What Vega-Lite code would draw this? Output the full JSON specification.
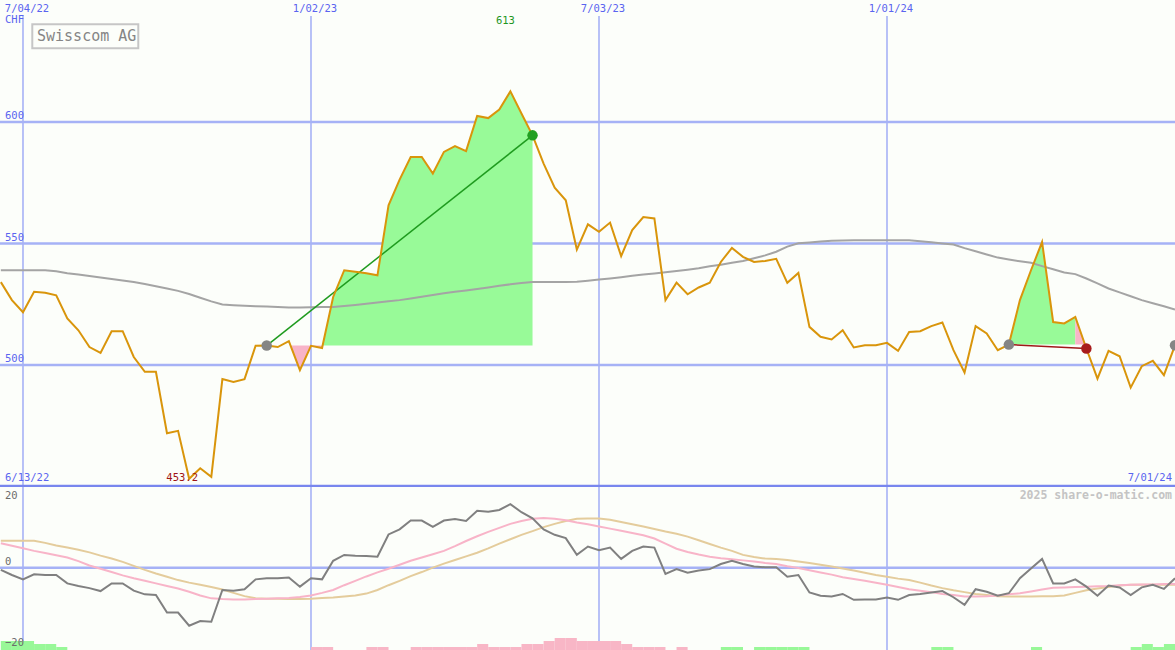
{
  "$schema": "https://vega.github.io/schema/vega-lite/v6.json",
  "padding": 0,
  "background": "#fcfefa",
  "spacing": 0,
  "bounds": "flush",
  "resolve": {"scale": {"color": "independent"}},
  "config": {"view": {"stroke": null}, "axis": {"disable": true}, "legend": {"disable": true}},
  "datasets": {
    "weekly": [
      {"d":"2022-06-20","p":534.1,"m":539.0,"o":-0.6,"sig1":6.7,"sig2":7.4},
      {"d":"2022-06-27","p":526.7,"m":539.0,"o":-2.0,"sig1":6.0,"sig2":7.4},
      {"d":"2022-07-04","p":521.7,"m":539.0,"o":-3.2,"sig1":5.3,"sig2":7.4},
      {"d":"2022-07-11","p":530.1,"m":539.0,"o":-1.8,"sig1":4.6,"sig2":7.4},
      {"d":"2022-07-18","p":529.7,"m":539.0,"o":-2.0,"sig1":4.0,"sig2":6.8},
      {"d":"2022-07-25","p":528.7,"m":538.6,"o":-2.0,"sig1":3.4,"sig2":6.1},
      {"d":"2022-08-01","p":519.2,"m":537.8,"o":-4.3,"sig1":2.8,"sig2":5.5},
      {"d":"2022-08-08","p":514.3,"m":537.2,"o":-5.0,"sig1":1.8,"sig2":4.9},
      {"d":"2022-08-15","p":507.4,"m":536.6,"o":-5.6,"sig1":0.6,"sig2":4.2},
      {"d":"2022-08-22","p":505.0,"m":536.0,"o":-6.4,"sig1":-0.3,"sig2":3.3},
      {"d":"2022-08-29","p":513.9,"m":535.4,"o":-4.3,"sig1":-1.2,"sig2":2.5},
      {"d":"2022-09-05","p":513.9,"m":534.8,"o":-4.3,"sig1":-2.1,"sig2":1.6},
      {"d":"2022-09-12","p":503.3,"m":534.2,"o":-6.3,"sig1":-2.9,"sig2":0.5},
      {"d":"2022-09-19","p":497.2,"m":533.3,"o":-7.3,"sig1":-3.6,"sig2":-0.6},
      {"d":"2022-09-26","p":497.2,"m":532.4,"o":-7.5,"sig1":-4.3,"sig2":-1.6},
      {"d":"2022-10-03","p":471.9,"m":531.5,"o":-12.3,"sig1":-5.0,"sig2":-2.5},
      {"d":"2022-10-10","p":472.9,"m":530.5,"o":-12.3,"sig1":-5.7,"sig2":-3.4},
      {"d":"2022-10-17","p":453.2,"m":529.2,"o":-15.9,"sig1":-6.6,"sig2":-4.1},
      {"d":"2022-10-24","p":457.5,"m":527.7,"o":-14.6,"sig1":-7.6,"sig2":-4.7},
      {"d":"2022-10-31","p":454.0,"m":526.2,"o":-14.8,"sig1":-8.4,"sig2":-5.3},
      {"d":"2022-11-07","p":494.2,"m":524.9,"o":-6.1,"sig1":-8.6,"sig2":-6.0},
      {"d":"2022-11-14","p":493.0,"m":524.6,"o":-6.3,"sig1":-8.7,"sig2":-6.9},
      {"d":"2022-11-21","p":494.2,"m":524.4,"o":-5.9,"sig1":-8.7,"sig2":-7.8},
      {"d":"2022-11-28","p":507.9,"m":524.2,"o":-3.2,"sig1":-8.6,"sig2":-8.4},
      {"d":"2022-12-05","p":508.0,"m":524.1,"o":-2.9,"sig1":-8.5,"sig2":-8.5},
      {"d":"2022-12-12","p":507.4,"m":523.9,"o":-2.9,"sig1":-8.4,"sig2":-8.5},
      {"d":"2022-12-19","p":509.8,"m":523.7,"o":-2.7,"sig1":-8.3,"sig2":-8.6},
      {"d":"2022-12-26","p":497.9,"m":523.7,"o":-5.2,"sig1":-8.0,"sig2":-8.6},
      {"d":"2023-01-02","p":507.9,"m":523.8,"o":-2.9,"sig1":-7.6,"sig2":-8.5},
      {"d":"2023-01-09","p":507.0,"m":523.9,"o":-3.2,"sig1":-6.9,"sig2":-8.3},
      {"d":"2023-01-16","p":528.0,"m":523.9,"o":1.9,"sig1":-6.1,"sig2":-8.2},
      {"d":"2023-01-23","p":539.0,"m":524.3,"o":3.5,"sig1":-4.8,"sig2":-7.9},
      {"d":"2023-01-30","p":538.4,"m":524.7,"o":3.3,"sig1":-3.6,"sig2":-7.6},
      {"d":"2023-02-06","p":537.8,"m":525.2,"o":3.2,"sig1":-2.4,"sig2":-7.1},
      {"d":"2023-02-13","p":536.9,"m":525.7,"o":3.0,"sig1":-1.3,"sig2":-6.1},
      {"d":"2023-02-20","p":565.7,"m":526.2,"o":9.1,"sig1":-0.3,"sig2":-4.8},
      {"d":"2023-02-27","p":576.3,"m":526.7,"o":10.5,"sig1":0.8,"sig2":-3.6},
      {"d":"2023-03-06","p":585.6,"m":527.4,"o":12.9,"sig1":1.9,"sig2":-2.3},
      {"d":"2023-03-13","p":585.6,"m":528.1,"o":12.9,"sig1":2.8,"sig2":-1.2},
      {"d":"2023-03-20","p":578.8,"m":528.8,"o":11.2,"sig1":3.7,"sig2":0.0},
      {"d":"2023-03-27","p":587.7,"m":529.5,"o":12.9,"sig1":4.6,"sig2":1.1},
      {"d":"2023-04-03","p":590.1,"m":530.1,"o":13.3,"sig1":5.9,"sig2":2.1},
      {"d":"2023-04-10","p":588.0,"m":530.7,"o":12.8,"sig1":7.3,"sig2":3.1},
      {"d":"2023-04-17","p":602.5,"m":531.3,"o":15.6,"sig1":8.6,"sig2":4.1},
      {"d":"2023-04-24","p":601.6,"m":531.9,"o":15.3,"sig1":9.8,"sig2":5.3},
      {"d":"2023-05-01","p":605.1,"m":532.6,"o":15.8,"sig1":10.9,"sig2":6.6},
      {"d":"2023-05-08","p":612.6,"m":533.2,"o":17.4,"sig1":12.0,"sig2":7.8},
      {"d":"2023-05-15","p":603.5,"m":533.7,"o":15.2,"sig1":12.8,"sig2":9.0},
      {"d":"2023-05-22","p":594.5,"m":534.2,"o":13.5,"sig1":13.4,"sig2":10.0},
      {"d":"2023-05-29","p":582.9,"m":534.2,"o":10.5,"sig1":13.6,"sig2":11.1},
      {"d":"2023-06-05","p":573.0,"m":534.2,"o":9.0,"sig1":13.4,"sig2":12.0},
      {"d":"2023-06-12","p":567.8,"m":534.2,"o":8.1,"sig1":13.0,"sig2":12.8},
      {"d":"2023-06-19","p":547.5,"m":534.3,"o":3.5,"sig1":12.4,"sig2":13.4},
      {"d":"2023-06-26","p":557.9,"m":534.7,"o":5.8,"sig1":11.9,"sig2":13.5},
      {"d":"2023-07-03","p":554.8,"m":535.2,"o":4.8,"sig1":11.3,"sig2":13.5},
      {"d":"2023-07-10","p":558.6,"m":535.6,"o":5.5,"sig1":10.7,"sig2":13.1},
      {"d":"2023-07-17","p":544.8,"m":536.1,"o":2.4,"sig1":10.1,"sig2":12.5},
      {"d":"2023-07-24","p":555.5,"m":536.7,"o":4.6,"sig1":9.5,"sig2":11.9},
      {"d":"2023-07-31","p":560.9,"m":537.2,"o":5.8,"sig1":8.9,"sig2":11.3},
      {"d":"2023-08-07","p":560.3,"m":537.7,"o":5.5,"sig1":8.0,"sig2":10.6},
      {"d":"2023-08-14","p":526.7,"m":538.2,"o":-1.7,"sig1":6.6,"sig2":9.9},
      {"d":"2023-08-21","p":533.9,"m":538.7,"o":-0.4,"sig1":5.2,"sig2":9.3},
      {"d":"2023-08-28","p":529.1,"m":539.2,"o":-1.4,"sig1":4.3,"sig2":8.5},
      {"d":"2023-09-04","p":531.9,"m":539.8,"o":-0.8,"sig1":3.6,"sig2":7.5},
      {"d":"2023-09-11","p":533.9,"m":540.6,"o":-0.4,"sig1":3.0,"sig2":6.5},
      {"d":"2023-09-18","p":542.4,"m":541.3,"o":1.0,"sig1":2.6,"sig2":5.5},
      {"d":"2023-09-25","p":548.2,"m":542.1,"o":1.9,"sig1":2.3,"sig2":4.6},
      {"d":"2023-10-02","p":544.5,"m":542.8,"o":1.0,"sig1":2.0,"sig2":3.5},
      {"d":"2023-10-09","p":542.4,"m":543.9,"o":0.3,"sig1":1.7,"sig2":2.9},
      {"d":"2023-10-16","p":542.8,"m":545.1,"o":0.1,"sig1":1.3,"sig2":2.5},
      {"d":"2023-10-23","p":543.7,"m":546.6,"o":0.1,"sig1":1.0,"sig2":2.4},
      {"d":"2023-10-30","p":533.8,"m":548.7,"o":-2.5,"sig1":0.4,"sig2":2.1},
      {"d":"2023-11-06","p":537.9,"m":550.1,"o":-2.0,"sig1":-0.1,"sig2":1.7},
      {"d":"2023-11-13","p":515.7,"m":550.4,"o":-6.8,"sig1":-0.7,"sig2":1.3},
      {"d":"2023-11-20","p":511.6,"m":550.8,"o":-7.7,"sig1":-1.3,"sig2":0.8},
      {"d":"2023-11-27","p":510.5,"m":551.1,"o":-7.9,"sig1":-1.9,"sig2":0.3},
      {"d":"2023-12-04","p":514.3,"m":551.2,"o":-7.2,"sig1":-2.6,"sig2":-0.2},
      {"d":"2023-12-11","p":507.2,"m":551.3,"o":-8.8,"sig1":-3.1,"sig2":-0.8},
      {"d":"2023-12-18","p":508.1,"m":551.3,"o":-8.7,"sig1":-3.6,"sig2":-1.4},
      {"d":"2023-12-25","p":508.1,"m":551.3,"o":-8.7,"sig1":-4.1,"sig2":-2.0},
      {"d":"2024-01-01","p":509.1,"m":551.3,"o":-8.2,"sig1":-4.7,"sig2":-2.5},
      {"d":"2024-01-08","p":505.8,"m":551.3,"o":-8.8,"sig1":-5.3,"sig2":-3.0},
      {"d":"2024-01-15","p":513.6,"m":551.3,"o":-7.5,"sig1":-5.9,"sig2":-3.4},
      {"d":"2024-01-22","p":513.9,"m":550.9,"o":-7.2,"sig1":-6.3,"sig2":-4.1},
      {"d":"2024-01-29","p":516.0,"m":550.5,"o":-6.8,"sig1":-6.7,"sig2":-4.9},
      {"d":"2024-02-05","p":517.5,"m":550.0,"o":-6.4,"sig1":-7.2,"sig2":-5.6},
      {"d":"2024-02-12","p":506.1,"m":549.6,"o":-8.1,"sig1":-7.5,"sig2":-6.2},
      {"d":"2024-02-19","p":496.9,"m":548.1,"o":-10.2,"sig1":-7.9,"sig2":-6.7},
      {"d":"2024-02-26","p":516.0,"m":546.8,"o":-5.9,"sig1":-7.9,"sig2":-7.2},
      {"d":"2024-03-04","p":513.0,"m":545.5,"o":-6.6,"sig1":-7.8,"sig2":-7.5},
      {"d":"2024-03-11","p":506.1,"m":544.2,"o":-7.7,"sig1":-7.6,"sig2":-7.8},
      {"d":"2024-03-18","p":508.4,"m":543.4,"o":-7.0,"sig1":-7.3,"sig2":-7.9},
      {"d":"2024-03-25","p":526.7,"m":542.7,"o":-2.9,"sig1":-7.0,"sig2":-7.9},
      {"d":"2024-04-01","p":539.0,"m":542.1,"o":-0.2,"sig1":-6.5,"sig2":-7.9},
      {"d":"2024-04-08","p":550.6,"m":540.7,"o":2.4,"sig1":-6.0,"sig2":-7.8},
      {"d":"2024-04-15","p":517.7,"m":539.4,"o":-4.3,"sig1":-5.5,"sig2":-7.8},
      {"d":"2024-04-22","p":517.1,"m":538.1,"o":-4.3,"sig1":-5.4,"sig2":-7.6},
      {"d":"2024-04-29","p":519.8,"m":537.4,"o":-3.2,"sig1":-5.3,"sig2":-6.9},
      {"d":"2024-05-06","p":506.8,"m":535.6,"o":-5.2,"sig1":-5.2,"sig2":-6.2},
      {"d":"2024-05-13","p":494.4,"m":533.6,"o":-7.7,"sig1":-5.1,"sig2":-5.7},
      {"d":"2024-05-20","p":505.8,"m":531.5,"o":-4.9,"sig1":-5.0,"sig2":-5.3},
      {"d":"2024-05-27","p":503.6,"m":529.9,"o":-5.4,"sig1":-4.8,"sig2":-4.9},
      {"d":"2024-06-03","p":490.7,"m":528.3,"o":-7.5,"sig1":-4.7,"sig2":-4.7},
      {"d":"2024-06-10","p":499.5,"m":526.7,"o":-5.4,"sig1":-4.6,"sig2":-4.7},
      {"d":"2024-06-17","p":501.7,"m":525.4,"o":-4.7,"sig1":-4.6,"sig2":-4.7},
      {"d":"2024-06-24","p":495.8,"m":524.2,"o":-5.8,"sig1":-4.5,"sig2":-4.7},
      {"d":"2024-07-01","p":508.1,"m":522.8,"o":-2.9,"sig1":-4.5,"sig2":-4.7}
    ],
    "fill": [
      {"t":1,"k":"r","d":"2022-12-20T01:00:00Z","v":508.0,"b":508.0},
      {"t":1,"k":"r","d":"2022-12-26","v":497.9,"b":508.0},
      {"t":1,"k":"r","d":"2023-01-02","v":507.9,"b":508.0},
      {"t":1,"k":"r","d":"2023-01-09","v":507.0,"b":508.0},
      {"t":1,"k":"r","d":"2023-01-09T08:00:00Z","v":508.0,"b":508.0},
      {"t":1,"k":"g","d":"2023-01-09T08:00:00Z","v":508.0,"b":508.0},
      {"t":1,"k":"g","d":"2023-01-16","v":528.0,"b":508.0},
      {"t":1,"k":"g","d":"2023-01-23","v":539.0,"b":508.0},
      {"t":1,"k":"g","d":"2023-01-30","v":538.4,"b":508.0},
      {"t":1,"k":"g","d":"2023-02-06","v":537.8,"b":508.0},
      {"t":1,"k":"g","d":"2023-02-13","v":536.9,"b":508.0},
      {"t":1,"k":"g","d":"2023-02-20","v":565.7,"b":508.0},
      {"t":1,"k":"g","d":"2023-02-27","v":576.3,"b":508.0},
      {"t":1,"k":"g","d":"2023-03-06","v":585.6,"b":508.0},
      {"t":1,"k":"g","d":"2023-03-13","v":585.6,"b":508.0},
      {"t":1,"k":"g","d":"2023-03-20","v":578.8,"b":508.0},
      {"t":1,"k":"g","d":"2023-03-27","v":587.7,"b":508.0},
      {"t":1,"k":"g","d":"2023-04-03","v":590.1,"b":508.0},
      {"t":1,"k":"g","d":"2023-04-10","v":588.0,"b":508.0},
      {"t":1,"k":"g","d":"2023-04-17","v":602.5,"b":508.0},
      {"t":1,"k":"g","d":"2023-04-24","v":601.6,"b":508.0},
      {"t":1,"k":"g","d":"2023-05-01","v":605.1,"b":508.0},
      {"t":1,"k":"g","d":"2023-05-08","v":612.6,"b":508.0},
      {"t":1,"k":"g","d":"2023-05-15","v":603.5,"b":508.0},
      {"t":1,"k":"g","d":"2023-05-22","v":594.5,"b":508.0},
      {"t":2,"k":"g","d":"2024-03-18","v":508.4,"b":508.4},
      {"t":2,"k":"g","d":"2024-03-25","v":526.7,"b":508.4},
      {"t":2,"k":"g","d":"2024-04-01","v":539.0,"b":508.4},
      {"t":2,"k":"g","d":"2024-04-08","v":550.6,"b":508.4},
      {"t":2,"k":"g","d":"2024-04-15","v":517.7,"b":508.4},
      {"t":2,"k":"g","d":"2024-04-22","v":517.1,"b":508.4},
      {"t":2,"k":"g","d":"2024-04-29","v":519.8,"b":508.4},
      {"t":2,"k":"r","d":"2024-04-29","v":519.8,"b":508.4},
      {"t":2,"k":"r","d":"2024-05-06","v":506.8,"b":508.4}
    ],
    "trades": [
      {"t":1,"k":"win","d":"2022-12-05","v":508.0},
      {"t":1,"k":"win","d":"2023-05-22","v":594.5},
      {"t":2,"k":"loss","d":"2024-03-18","v":508.4},
      {"t":2,"k":"loss","d":"2024-05-06","v":506.8}
    ],
    "signals": [
      {"k":"buy","d":"2022-12-05","v":508.0},
      {"k":"win","d":"2023-05-22","v":594.5},
      {"k":"buy","d":"2024-03-18","v":508.4},
      {"k":"loss","d":"2024-05-06","v":506.8},
      {"k":"buy","d":"2024-07-01","v":508.1}
    ],
    "bars": [
      {"d":"2022-06-20","e":"2022-06-27","h":3,"c":"up"},
      {"d":"2022-06-27","e":"2022-07-04","h":3,"c":"up"},
      {"d":"2022-07-04","e":"2022-07-11","h":3,"c":"up"},
      {"d":"2022-07-11","e":"2022-07-18","h":2,"c":"up"},
      {"d":"2022-07-18","e":"2022-07-25","h":2,"c":"up"},
      {"d":"2022-07-25","e":"2022-08-01","h":1,"c":"up"},
      {"d":"2023-01-02","e":"2023-01-09","h":1,"c":"down"},
      {"d":"2023-01-09","e":"2023-01-16","h":1,"c":"down"},
      {"d":"2023-02-06","e":"2023-02-13","h":1,"c":"down"},
      {"d":"2023-02-13","e":"2023-02-20","h":1,"c":"down"},
      {"d":"2023-03-06","e":"2023-03-13","h":1,"c":"down"},
      {"d":"2023-03-13","e":"2023-03-20","h":1,"c":"down"},
      {"d":"2023-03-20","e":"2023-03-27","h":1,"c":"down"},
      {"d":"2023-03-27","e":"2023-04-03","h":1,"c":"down"},
      {"d":"2023-04-03","e":"2023-04-10","h":1,"c":"down"},
      {"d":"2023-04-10","e":"2023-04-17","h":1,"c":"down"},
      {"d":"2023-04-17","e":"2023-04-24","h":2,"c":"down"},
      {"d":"2023-04-24","e":"2023-05-01","h":1,"c":"down"},
      {"d":"2023-05-01","e":"2023-05-08","h":1,"c":"down"},
      {"d":"2023-05-08","e":"2023-05-15","h":1,"c":"down"},
      {"d":"2023-05-15","e":"2023-05-22","h":2,"c":"down"},
      {"d":"2023-05-22","e":"2023-05-29","h":2,"c":"down"},
      {"d":"2023-05-29","e":"2023-06-05","h":3,"c":"down"},
      {"d":"2023-06-05","e":"2023-06-12","h":4,"c":"down"},
      {"d":"2023-06-12","e":"2023-06-19","h":4,"c":"down"},
      {"d":"2023-06-19","e":"2023-06-26","h":3,"c":"down"},
      {"d":"2023-06-26","e":"2023-07-03","h":3,"c":"down"},
      {"d":"2023-07-03","e":"2023-07-10","h":3,"c":"down"},
      {"d":"2023-07-10","e":"2023-07-17","h":3,"c":"down"},
      {"d":"2023-07-17","e":"2023-07-24","h":2,"c":"down"},
      {"d":"2023-07-24","e":"2023-07-31","h":1,"c":"down"},
      {"d":"2023-07-31","e":"2023-08-07","h":1,"c":"down"},
      {"d":"2023-08-07","e":"2023-08-14","h":1,"c":"down"},
      {"d":"2023-08-21","e":"2023-08-28","h":1,"c":"down"},
      {"d":"2023-09-18","e":"2023-09-25","h":1,"c":"up"},
      {"d":"2023-09-25","e":"2023-10-02","h":1,"c":"up"},
      {"d":"2023-10-09","e":"2023-10-16","h":1,"c":"up"},
      {"d":"2023-10-16","e":"2023-10-23","h":1,"c":"up"},
      {"d":"2023-10-23","e":"2023-10-30","h":1,"c":"up"},
      {"d":"2023-10-30","e":"2023-11-06","h":1,"c":"up"},
      {"d":"2023-11-06","e":"2023-11-13","h":1,"c":"up"},
      {"d":"2024-01-29","e":"2024-02-05","h":1,"c":"up"},
      {"d":"2024-02-05","e":"2024-02-12","h":1,"c":"up"},
      {"d":"2024-04-01","e":"2024-04-08","h":1,"c":"up"},
      {"d":"2024-06-03","e":"2024-06-10","h":1,"c":"up"},
      {"d":"2024-06-10","e":"2024-06-17","h":2,"c":"up"},
      {"d":"2024-06-17","e":"2024-06-24","h":1,"c":"up"},
      {"d":"2024-06-24","e":"2024-07-01","h":2,"c":"up"}
    ]
  },
  "vconcat": [
    {
      "width": 1175,
      "height": 487,
      "resolve": {"scale": {"color": "independent"}},
      "layer": [
        {
          "data": {"values": [{"d":"2022-07-04"},{"d":"2023-01-02"},{"d":"2023-07-03"},{"d":"2024-01-01"}]},
          "mark": {"type": "rule", "color": "#a6b2f6", "strokeWidth": 1.6, "clip": true},
          "encoding": {
            "x": {"field": "d", "type": "temporal", "scale": {"type": "utc", "domain": [{"year": 2022, "month": 6, "date": 19, "hours": 11, "minutes": 15, "utc": true}, {"year": 2024, "month": 7, "date": 1, "utc": true}]}, "axis": null},
            "y": {"datum": 643.6, "type": "quantitative", "scale": {"domain": [449.8, 650.2], "zero": false, "nice": false}, "axis": null},
            "y2": {"datum": 449.8}
          }
        },
        {
          "data": {"values": [{"v":500},{"v":550},{"v":600}]},
          "mark": {"type": "rule", "color": "#a6b2f6", "strokeWidth": 2.5, "clip": true},
          "encoding": {
            "y": {"field": "v", "type": "quantitative", "scale": {"domain": [449.8, 650.2], "zero": false, "nice": false}, "axis": null}
          }
        },
        {
          "data": {"name": "fill"},
          "mark": {"type": "area", "opacity": 1, "clip": true},
          "encoding": {
            "x": {"field": "d", "type": "temporal", "scale": {"type": "utc", "domain": [{"year": 2022, "month": 6, "date": 19, "hours": 11, "minutes": 15, "utc": true}, {"year": 2024, "month": 7, "date": 1, "utc": true}]}, "axis": null},
            "y": {"field": "v", "type": "quantitative", "scale": {"domain": [449.8, 650.2], "zero": false, "nice": false}, "axis": null},
            "y2": {"field": "b"},
            "color": {"field": "k", "type": "nominal", "scale": {"domain": ["g", "r"], "range": ["#98fa98", "#f8b4c8"]}, "legend": null},
            "detail": {"field": "t", "type": "nominal"}
          }
        },
        {
          "data": {"name": "weekly"},
          "mark": {"type": "line", "color": "#a4a4a4", "strokeWidth": 2, "clip": true},
          "encoding": {
            "x": {"field": "d", "type": "temporal", "scale": {"type": "utc", "domain": [{"year": 2022, "month": 6, "date": 19, "hours": 11, "minutes": 15, "utc": true}, {"year": 2024, "month": 7, "date": 1, "utc": true}]}, "axis": null},
            "y": {"field": "m", "type": "quantitative", "scale": {"domain": [449.8, 650.2], "zero": false, "nice": false}, "axis": null}
          }
        },
        {
          "data": {"name": "trades"},
          "mark": {"type": "line", "strokeWidth": 1.5, "clip": true},
          "encoding": {
            "x": {"field": "d", "type": "temporal", "scale": {"type": "utc", "domain": [{"year": 2022, "month": 6, "date": 19, "hours": 11, "minutes": 15, "utc": true}, {"year": 2024, "month": 7, "date": 1, "utc": true}]}, "axis": null},
            "y": {"field": "v", "type": "quantitative", "scale": {"domain": [449.8, 650.2], "zero": false, "nice": false}, "axis": null},
            "color": {"field": "k", "type": "nominal", "scale": {"domain": ["win", "loss"], "range": ["#1f9b1f", "#a01818"]}, "legend": null},
            "detail": {"field": "t", "type": "nominal"}
          }
        },
        {
          "data": {"name": "weekly"},
          "mark": {"type": "line", "color": "#d9950b", "strokeWidth": 2, "clip": true},
          "encoding": {
            "x": {"field": "d", "type": "temporal", "scale": {"type": "utc", "domain": [{"year": 2022, "month": 6, "date": 19, "hours": 11, "minutes": 15, "utc": true}, {"year": 2024, "month": 7, "date": 1, "utc": true}]}, "axis": null},
            "y": {"field": "p", "type": "quantitative", "scale": {"domain": [449.8, 650.2], "zero": false, "nice": false}, "axis": null}
          }
        },
        {
          "data": {"name": "signals"},
          "mark": {"type": "circle", "size": 110, "opacity": 1, "clip": true},
          "encoding": {
            "x": {"field": "d", "type": "temporal", "scale": {"type": "utc", "domain": [{"year": 2022, "month": 6, "date": 19, "hours": 11, "minutes": 15, "utc": true}, {"year": 2024, "month": 7, "date": 1, "utc": true}]}, "axis": null},
            "y": {"field": "v", "type": "quantitative", "scale": {"domain": [449.8, 650.2], "zero": false, "nice": false}, "axis": null},
            "color": {"field": "k", "type": "nominal", "scale": {"domain": ["buy", "win", "loss"], "range": ["#858585", "#22a022", "#a81c1c"]}, "legend": null}
          }
        },
        {
          "data": {"values": [{}]},
          "mark": {"type": "rule", "color": "#7886ee", "strokeWidth": 3, "clip": true},
          "encoding": {
            "y": {"datum": 450.1, "type": "quantitative", "scale": {"domain": [449.8, 650.2], "zero": false, "nice": false}, "axis": null}
          }
        },
        {
          "data": {"values": [{"d":"2022-07-04","s":"7/04/22"},{"d":"2023-01-02","s":"1/02/23"},{"d":"2023-07-03","s":"7/03/23"},{"d":"2024-01-01","s":"1/01/24"}]},
          "mark": {"type": "text", "font": "DejaVu Sans Mono", "fontSize": 10.5, "color": "#5a64f0", "align": "center", "baseline": "middle", "dx": 4},
          "encoding": {
            "x": {"field": "d", "type": "temporal", "scale": {"type": "utc", "domain": [{"year": 2022, "month": 6, "date": 19, "hours": 11, "minutes": 15, "utc": true}, {"year": 2024, "month": 7, "date": 1, "utc": true}]}, "axis": null},
            "y": {"datum": 646.5, "type": "quantitative", "scale": {"domain": [449.8, 650.2], "zero": false, "nice": false}, "axis": null},
            "text": {"field": "s"}
          }
        },
        {
          "data": {"values": [{"v":600,"s":"600"},{"v":550,"s":"550"},{"v":500,"s":"500"}]},
          "mark": {"type": "text", "font": "DejaVu Sans Mono", "fontSize": 10.5, "color": "#5a64f0", "align": "left", "baseline": "middle", "dx": 5, "dy": -6},
          "encoding": {
            "x": {"datum": {"year": 2022, "month": 6, "date": 19, "hours": 11, "minutes": 15, "utc": true}, "type": "temporal", "scale": {"type": "utc", "domain": [{"year": 2022, "month": 6, "date": 19, "hours": 11, "minutes": 15, "utc": true}, {"year": 2024, "month": 7, "date": 1, "utc": true}]}, "axis": null},
            "y": {"field": "v", "type": "quantitative", "scale": {"domain": [449.8, 650.2], "zero": false, "nice": false}, "axis": null},
            "text": {"field": "s"}
          }
        },
        {
          "data": {"values": [{"v":641.8,"s":"CHF"},{"v":453.4,"s":"6/13/22"}]},
          "mark": {"type": "text", "font": "DejaVu Sans Mono", "fontSize": 10.5, "color": "#5a64f0", "align": "left", "baseline": "middle", "dx": 5},
          "encoding": {
            "x": {"datum": {"year": 2022, "month": 6, "date": 19, "hours": 11, "minutes": 15, "utc": true}, "type": "temporal", "scale": {"type": "utc", "domain": [{"year": 2022, "month": 6, "date": 19, "hours": 11, "minutes": 15, "utc": true}, {"year": 2024, "month": 7, "date": 1, "utc": true}]}, "axis": null},
            "y": {"field": "v", "type": "quantitative", "scale": {"domain": [449.8, 650.2], "zero": false, "nice": false}, "axis": null},
            "text": {"field": "s"}
          }
        },
        {
          "data": {"values": [{"d":"2024-07-01","v":453.4,"s":"7/01/24"}]},
          "mark": {"type": "text", "font": "DejaVu Sans Mono", "fontSize": 10.5, "color": "#5a64f0", "align": "right", "baseline": "middle", "dx": -3},
          "encoding": {
            "x": {"field": "d", "type": "temporal", "scale": {"type": "utc", "domain": [{"year": 2022, "month": 6, "date": 19, "hours": 11, "minutes": 15, "utc": true}, {"year": 2024, "month": 7, "date": 1, "utc": true}]}, "axis": null},
            "y": {"field": "v", "type": "quantitative", "scale": {"domain": [449.8, 650.2], "zero": false, "nice": false}, "axis": null},
            "text": {"field": "s"}
          }
        },
        {
          "data": {"values": [{"d":"2022-10-17","v":453.4,"s":"453.2"}]},
          "mark": {"type": "text", "font": "DejaVu Sans Mono", "fontSize": 10.5, "color": "#a01414", "align": "center", "baseline": "middle", "dx": -7},
          "encoding": {
            "x": {"field": "d", "type": "temporal", "scale": {"type": "utc", "domain": [{"year": 2022, "month": 6, "date": 19, "hours": 11, "minutes": 15, "utc": true}, {"year": 2024, "month": 7, "date": 1, "utc": true}]}, "axis": null},
            "y": {"field": "v", "type": "quantitative", "scale": {"domain": [449.8, 650.2], "zero": false, "nice": false}, "axis": null},
            "text": {"field": "s"}
          }
        },
        {
          "data": {"values": [{"d":"2023-05-08","v":641.6,"s":"613"}]},
          "mark": {"type": "text", "font": "DejaVu Sans Mono", "fontSize": 10.5, "color": "#1e961e", "align": "center", "baseline": "middle", "dx": -5},
          "encoding": {
            "x": {"field": "d", "type": "temporal", "scale": {"type": "utc", "domain": [{"year": 2022, "month": 6, "date": 19, "hours": 11, "minutes": 15, "utc": true}, {"year": 2024, "month": 7, "date": 1, "utc": true}]}, "axis": null},
            "y": {"field": "v", "type": "quantitative", "scale": {"domain": [449.8, 650.2], "zero": false, "nice": false}, "axis": null},
            "text": {"field": "s"}
          }
        },
        {
          "data": {"values": [{"d":"2022-07-09T21:00:00Z","e":"2022-09-14T20:40:00Z","v":640.2,"w":630.3}]},
          "mark": {"type": "rect", "fillOpacity": 0, "stroke": "#c6c6c6", "strokeWidth": 2},
          "encoding": {
            "x": {"field": "d", "type": "temporal", "scale": {"type": "utc", "domain": [{"year": 2022, "month": 6, "date": 19, "hours": 11, "minutes": 15, "utc": true}, {"year": 2024, "month": 7, "date": 1, "utc": true}]}, "axis": null},
            "x2": {"field": "e"},
            "y": {"field": "v", "type": "quantitative", "scale": {"domain": [449.8, 650.2], "zero": false, "nice": false}, "axis": null},
            "y2": {"field": "w"}
          }
        },
        {
          "data": {"values": [{"d":"2022-07-12T20:00:00Z","v":635.2,"s":"Swisscom AG"}]},
          "mark": {"type": "text", "font": "DejaVu Sans Mono", "fontSize": 15, "color": "#858585", "align": "left", "baseline": "middle"},
          "encoding": {
            "x": {"field": "d", "type": "temporal", "scale": {"type": "utc", "domain": [{"year": 2022, "month": 6, "date": 19, "hours": 11, "minutes": 15, "utc": true}, {"year": 2024, "month": 7, "date": 1, "utc": true}]}, "axis": null},
            "y": {"field": "v", "type": "quantitative", "scale": {"domain": [449.8, 650.2], "zero": false, "nice": false}, "axis": null},
            "text": {"field": "s"}
          }
        }
      ]
    },
    {
      "width": 1175,
      "height": 163,
      "resolve": {"scale": {"y": "independent"}},
      "layer": [
        {
          "data": {"values": [{"d":"2022-07-04"},{"d":"2023-01-02"},{"d":"2023-07-03"},{"d":"2024-01-01"}]},
          "mark": {"type": "rule", "color": "#a6b2f6", "strokeWidth": 1.6, "clip": true},
          "encoding": {
            "x": {"field": "d", "type": "temporal", "scale": {"type": "utc", "domain": [{"year": 2022, "month": 6, "date": 19, "hours": 11, "minutes": 15, "utc": true}, {"year": 2024, "month": 7, "date": 1, "utc": true}]}, "axis": null}
          }
        },
        {
          "data": {"values": [{}]},
          "mark": {"type": "rule", "color": "#a6b2f6", "strokeWidth": 2.5, "clip": true},
          "encoding": {
            "y": {"datum": 0, "type": "quantitative", "scale": {"domain": [-22.55, 22.1], "zero": false, "nice": false}, "axis": null}
          }
        },
        {
          "data": {"name": "bars"},
          "mark": {"type": "rect", "clip": true},
          "encoding": {
            "x": {"field": "d", "type": "temporal", "scale": {"type": "utc", "domain": [{"year": 2022, "month": 6, "date": 19, "hours": 11, "minutes": 15, "utc": true}, {"year": 2024, "month": 7, "date": 1, "utc": true}]}, "axis": null},
            "x2": {"field": "e"},
            "y": {"field": "h", "type": "quantitative", "scale": {"domain": [0, 54.333], "zero": false, "nice": false}, "axis": null},
            "y2": {"datum": 0},
            "color": {"field": "c", "type": "nominal", "scale": {"domain": ["up", "down"], "range": ["#98f898", "#f8b6c6"]}, "legend": null}
          }
        },
        {
          "data": {"name": "weekly"},
          "mark": {"type": "line", "color": "#e4cc9c", "strokeWidth": 2, "clip": true},
          "encoding": {
            "x": {"field": "d", "type": "temporal", "scale": {"type": "utc", "domain": [{"year": 2022, "month": 6, "date": 19, "hours": 11, "minutes": 15, "utc": true}, {"year": 2024, "month": 7, "date": 1, "utc": true}]}, "axis": null},
            "y": {"field": "sig2", "type": "quantitative", "scale": {"domain": [-22.55, 22.1], "zero": false, "nice": false}, "axis": null}
          }
        },
        {
          "data": {"name": "weekly"},
          "mark": {"type": "line", "color": "#f8b4c8", "strokeWidth": 2, "clip": true},
          "encoding": {
            "x": {"field": "d", "type": "temporal", "scale": {"type": "utc", "domain": [{"year": 2022, "month": 6, "date": 19, "hours": 11, "minutes": 15, "utc": true}, {"year": 2024, "month": 7, "date": 1, "utc": true}]}, "axis": null},
            "y": {"field": "sig1", "type": "quantitative", "scale": {"domain": [-22.55, 22.1], "zero": false, "nice": false}, "axis": null}
          }
        },
        {
          "data": {"name": "weekly"},
          "mark": {"type": "line", "color": "#808080", "strokeWidth": 2, "clip": true},
          "encoding": {
            "x": {"field": "d", "type": "temporal", "scale": {"type": "utc", "domain": [{"year": 2022, "month": 6, "date": 19, "hours": 11, "minutes": 15, "utc": true}, {"year": 2024, "month": 7, "date": 1, "utc": true}]}, "axis": null},
            "y": {"field": "o", "type": "quantitative", "scale": {"domain": [-22.55, 22.1], "zero": false, "nice": false}, "axis": null}
          }
        },
        {
          "data": {"values": [{"v":19.63,"s":"20"},{"v":1.64,"s":"0"},{"v":-20.5,"s":"−20"}]},
          "mark": {"type": "text", "font": "DejaVu Sans Mono", "fontSize": 10.5, "color": "#6c6c6c", "align": "left", "baseline": "middle", "dx": 5},
          "encoding": {
            "x": {"datum": {"year": 2022, "month": 6, "date": 19, "hours": 11, "minutes": 15, "utc": true}, "type": "temporal", "scale": {"type": "utc", "domain": [{"year": 2022, "month": 6, "date": 19, "hours": 11, "minutes": 15, "utc": true}, {"year": 2024, "month": 7, "date": 1, "utc": true}]}, "axis": null},
            "y": {"field": "v", "type": "quantitative", "scale": {"domain": [-22.55, 22.1], "zero": false, "nice": false}, "axis": null},
            "text": {"field": "s"}
          }
        },
        {
          "data": {"values": [{"d":"2024-07-01","v":19.63,"s":"2025 share-o-matic.com"}]},
          "mark": {"type": "text", "font": "DejaVu Sans Mono", "fontSize": 11.5, "fontWeight": "bold", "color": "#c4c4c4", "align": "right", "baseline": "middle", "dx": -3},
          "encoding": {
            "x": {"field": "d", "type": "temporal", "scale": {"type": "utc", "domain": [{"year": 2022, "month": 6, "date": 19, "hours": 11, "minutes": 15, "utc": true}, {"year": 2024, "month": 7, "date": 1, "utc": true}]}, "axis": null},
            "y": {"field": "v", "type": "quantitative", "scale": {"domain": [-22.55, 22.1], "zero": false, "nice": false}, "axis": null},
            "text": {"field": "s"}
          }
        }
      ]
    }
  ]
}
